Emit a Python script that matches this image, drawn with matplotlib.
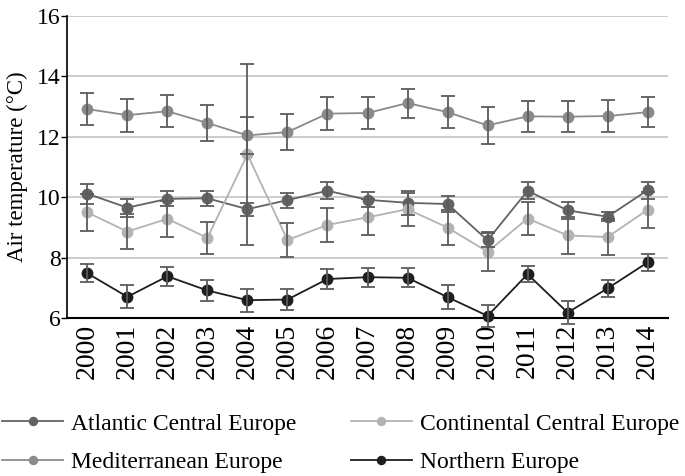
import matplotlib
matplotlib.use("Agg")
import matplotlib.pyplot as plt
import numpy as np

years = ["2000", "2001", "2002", "2003", "2004", "2005", "2006", "2007",
         "2008", "2009", "2010", "2011", "2012", "2013", "2014"]

series_names = ["Atlantic Central Europe", "Continental Central Europe",
                "Mediterranean Europe", "Northern Europe"]

atlantic = [10.12, 9.66, 9.95, 9.97, 9.61, 9.91, 10.22, 9.92, 9.82, 9.78, 8.58, 10.22, 9.57, 9.36, 10.24]
atlantic_err = [0.33, 0.30, 0.25, 0.24, 0.22, 0.25, 0.28, 0.25, 0.40, 0.25, 0.23, 0.28, 0.27, 0.15, 0.28]

continental = [9.50, 8.87, 9.29, 8.66, 11.42, 8.59, 9.09, 9.34, 9.61, 9.00, 8.20, 9.30, 8.74, 8.69, 9.59]
continental_err = [0.60, 0.58, 0.60, 0.53, 3.00, 0.55, 0.55, 0.60, 0.55, 0.58, 0.65, 0.55, 0.62, 0.60, 0.60]

mediterranean = [12.92, 12.72, 12.85, 12.46, 12.05, 12.16, 12.77, 12.79, 13.12, 12.82, 12.38, 12.68, 12.67, 12.69, 12.82]
mediterranean_err = [0.52, 0.55, 0.53, 0.60, 0.60, 0.60, 0.55, 0.52, 0.48, 0.53, 0.60, 0.52, 0.52, 0.53, 0.50]

northern = [7.49, 6.71, 7.39, 6.92, 6.60, 6.62, 7.30, 7.36, 7.34, 6.70, 6.08, 7.46, 6.19, 6.99, 7.85]
northern_err = [0.30, 0.38, 0.32, 0.35, 0.38, 0.36, 0.32, 0.31, 0.32, 0.40, 0.37, 0.27, 0.38, 0.27, 0.27]

values = [atlantic, continental, mediterranean, northern]
errors = [atlantic_err, continental_err, mediterranean_err, northern_err]
colors = ["#626262", "#b3b3b3", "#8a8a8a", "#1e1e1e"]
err_color = "#5c5c5c"

plt.rcParams['font.family'] = ['Liberation Serif', 'DejaVu Serif']

fig = plt.figure(figsize=(6.85, 4.76), dpi=100)
ax = fig.add_axes([0.0983, 0.3313, 0.8764, 0.6351])

x = np.arange(len(years))
handles = []
for name, v, c in zip(series_names, values, colors):
    h, = ax.plot(x, v, color=c, lw=1.3, marker='o', markersize=8.5,
                 markeredgewidth=0, label=name, zorder=3, clip_on=False)
    handles.append(h)
for v, e in zip(values, errors):
    ax.errorbar(x, v, yerr=e, fmt='none', ecolor=err_color, elinewidth=1.3,
                capsize=4.8, capthick=1.3, zorder=4, clip_on=False)

ax.set_xlim(-0.5, len(years) - 0.5)
ax.set_ylim(6, 16)
ax.set_yticks([6, 8, 10, 12, 14, 16])
ax.set_xticks(x)
ax.set_xticklabels(years, rotation=90, fontsize=20)
ax.tick_params(axis='y', labelsize=17, length=4, width=1, direction='out', pad=1)
ax.tick_params(axis='x', length=0, pad=4)
ax.yaxis.grid(True, color="#c4c4c4", lw=1.2)
ax.set_axisbelow(True)
for s in ['top', 'right']:
    ax.spines[s].set_visible(False)
ax.spines['left'].set_linewidth(1.2)
ax.spines['bottom'].set_linewidth(1.5)
ax.set_ylabel("Air temperature (°C)", fontsize=16.5, va='center')
ax.yaxis.set_label_coords(-0.083, 0.5)

order = [0, 2, 1, 3]
fig.legend(handles=[handles[i] for i in order],
           labels=[series_names[i] for i in order],
           loc='center left', bbox_to_anchor=(0.003, 0.069), ncol=2,
           frameon=False, fontsize=17, markerscale=0.8,
           handlelength=2.6, handletextpad=0.32, columnspacing=2.3,
           labelspacing=0.72, borderpad=0, borderaxespad=0)

fig.savefig("out.png", dpi=100)
